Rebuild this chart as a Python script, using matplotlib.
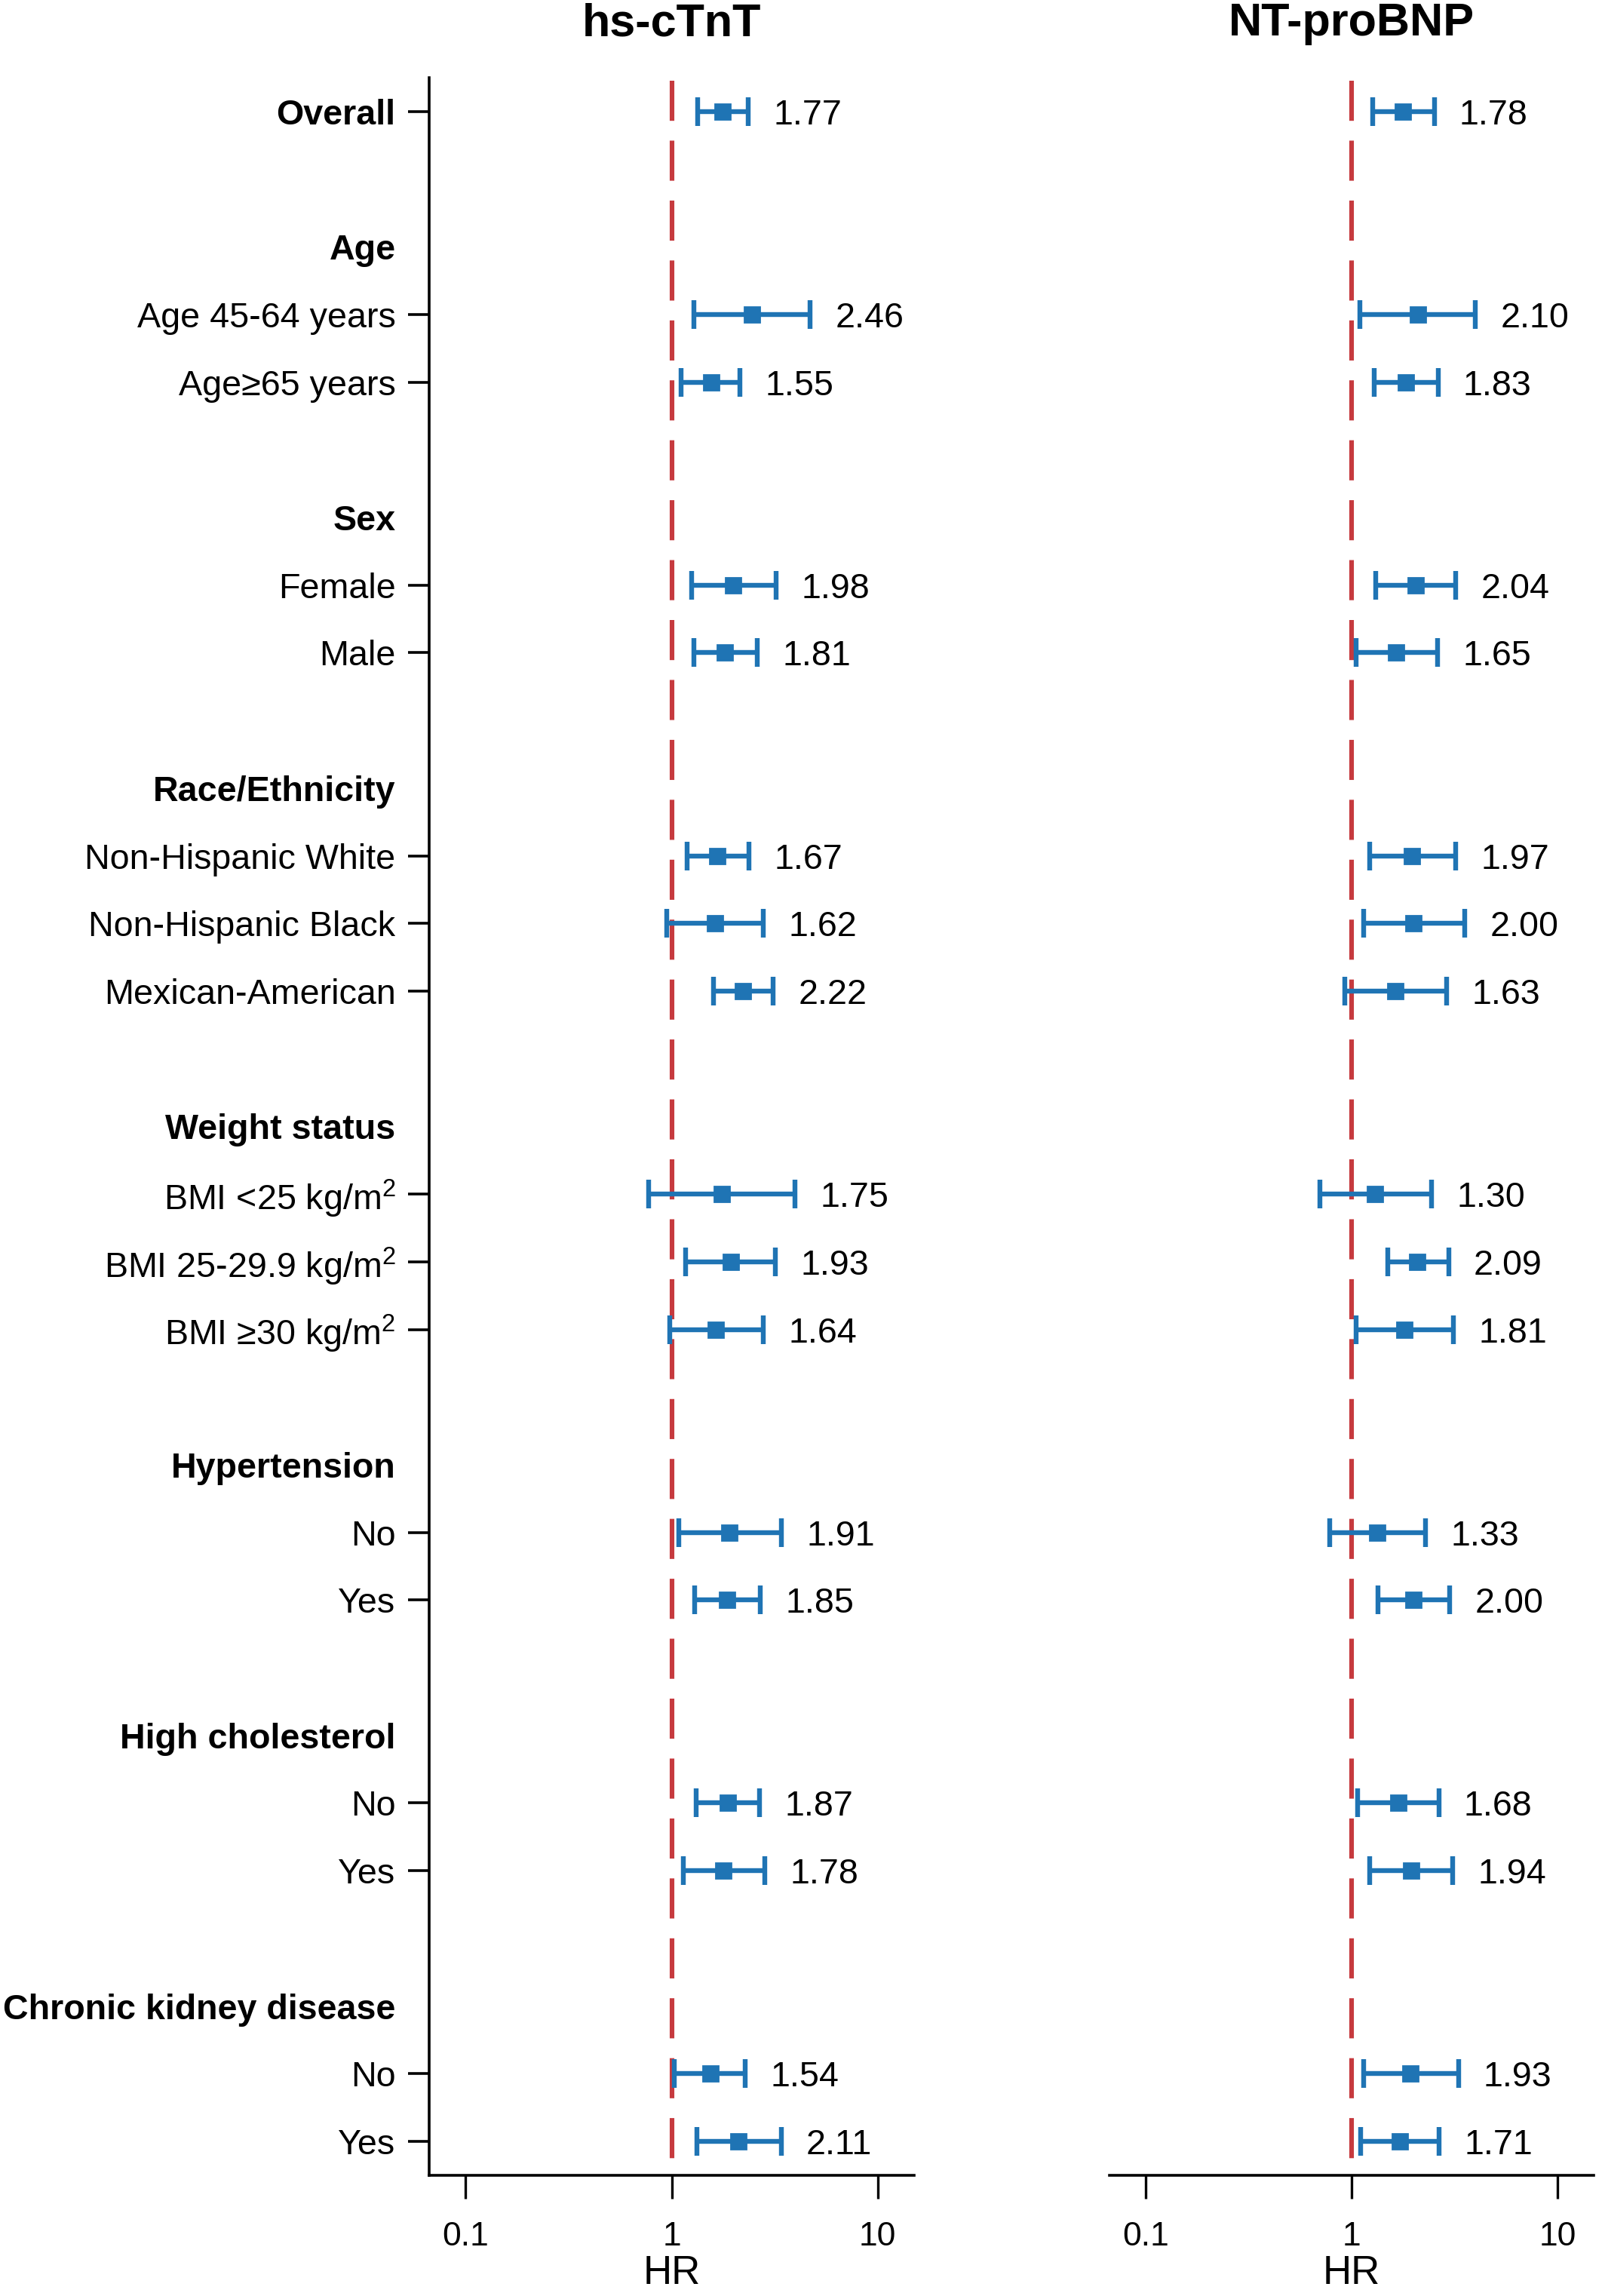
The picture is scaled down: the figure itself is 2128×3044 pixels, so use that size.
import matplotlib
matplotlib.use("Agg")
import matplotlib.pyplot as plt

plt.rcParams['font.family'] = ['Liberation Sans', 'DejaVu Sans']
plt.rcParams['mathtext.fontset'] = 'custom'
plt.rcParams['mathtext.rm'] = 'Liberation Sans'
plt.rcParams['mathtext.it'] = 'Liberation Sans:italic'
plt.rcParams['mathtext.bf'] = 'Liberation Sans:bold'

# subgroup layout: header, then its levels (Overall has no header)
groups = ["Age", "Sex", "Race/Ethnicity", "Weight status",
          "Hypertension", "High cholesterol", "Chronic kidney disease"]
levels = [["Age 45-64 years", "Age\u226565 years"],
          ["Female", "Male"],
          ["Non-Hispanic White", "Non-Hispanic Black", "Mexican-American"],
          ["BMI <25 kg/m$^2$", "BMI 25-29.9 kg/m$^2$", "BMI \u226530 kg/m$^2$"],
          ["No", "Yes"],
          ["No", "Yes"],
          ["No", "Yes"]]

# hs-cTnT
tnt_hr = [1.77, 2.46, 1.55, 1.98, 1.81, 1.67, 1.62, 2.22, 1.75, 1.93, 1.64, 1.91, 1.85, 1.87, 1.78, 1.54, 2.11]
tnt_lo = [1.34, 1.28, 1.11, 1.25, 1.28, 1.19, 0.95, 1.60, 0.77, 1.17, 0.98, 1.08, 1.29, 1.31, 1.14, 1.03, 1.32]
tnt_hi = [2.35, 4.71, 2.15, 3.21, 2.60, 2.38, 2.79, 3.10, 3.98, 3.18, 2.78, 3.42, 2.69, 2.67, 2.83, 2.28, 3.40]
# NT-proBNP
bnp_hr = [1.78, 2.10, 1.83, 2.04, 1.65, 1.97, 2.00, 1.63, 1.30, 2.09, 1.81, 1.33, 2.00, 1.68, 1.94, 1.93, 1.71]
bnp_lo = [1.27, 1.10, 1.29, 1.31, 1.05, 1.22, 1.14, 0.93, 0.70, 1.50, 1.055, 0.78, 1.34, 1.07, 1.22, 1.14, 1.11]
bnp_hi = [2.52, 4.00, 2.63, 3.21, 2.62, 3.21, 3.55, 2.89, 2.44, 2.96, 3.12, 2.29, 2.99, 2.65, 3.10, 3.30, 2.66]

titles = ["hs-cTnT", "NT-proBNP"]

BLUE = '#1f74b4'
RED = '#c63a3e'

# build row positions
data_pos = [0]
data_lab = ["Overall"]
head_pos = []
row = 2
for g, lv in zip(groups, levels):
    head_pos.append(row)
    row += 1
    for l in lv:
        data_pos.append(row)
        data_lab.append(l)
        row += 1
    row += 1
nrows = row - 1

fig = plt.figure(figsize=(10.64, 15.22), dpi=200)
axL = fig.add_axes([0.2674, 0.0526, 0.3022, 0.9136])
axR = fig.add_axes([0.6913, 0.0526, 0.3017, 0.9136])

for ax, hr, lo, hi, title in [(axL, tnt_hr, tnt_lo, tnt_hi, titles[0]),
                              (axR, bnp_hr, bnp_lo, bnp_hi, titles[1])]:
    ax.set_xscale('log')
    ax.set_xlim(10 ** -1.177, 10 ** 1.177)
    ax.set_ylim(nrows - 0.5, -0.5)
    ax.plot([1, 1], [-0.45, nrows - 0.5], color=RED, lw=2.2,
            linestyle=(0, (8.7, 4.3)), zorder=1)
    err = [[h - l for h, l in zip(hr, lo)], [u - h for h, u in zip(hr, hi)]]
    ax.errorbar(hr, data_pos, xerr=err, fmt='s', color=BLUE, ecolor=BLUE,
                ms=7.2, elinewidth=2.3, capsize=7, capthick=2.3, zorder=3)
    for h, u, y in zip(hr, hi, data_pos):
        ax.annotate(f"{h:.2f}", (u, y), xytext=(12, 0), textcoords='offset points',
                    ha='left', va='center_baseline', fontsize=16.8)
    ax.set_xticks([0.1, 1, 10])
    ax.set_xticklabels(["0.1", "1", "10"])
    ax.minorticks_off()
    ax.tick_params(axis='x', length=11, width=1.2, pad=11, labelsize=16)
    ax.set_xlabel("HR", fontsize=19, labelpad=1)
    ax.set_title(title, fontsize=22, fontweight='bold', pad=20)
    for s in ['top', 'right']:
        ax.spines[s].set_visible(False)
    ax.spines['bottom'].set_linewidth(1.3)
    ax.spines['left'].set_linewidth(1.3)

# left panel y labels
ypos = data_pos + head_pos
ylab = data_lab + groups
axL.set_yticks(ypos)
axL.set_yticklabels(ylab)
axL.tick_params(axis='y', length=10, width=1.3, pad=6, labelsize=16.8)
ticks = axL.yaxis.get_major_ticks()
for i, t in enumerate(ticks):
    if i == 0 or i >= len(data_pos):
        t.label1.set_fontweight('bold')
    if i >= len(data_pos):
        t.tick1line.set_visible(False)

axR.spines['left'].set_visible(False)
axR.set_yticks([])

fig.savefig("out.png", dpi=200)
